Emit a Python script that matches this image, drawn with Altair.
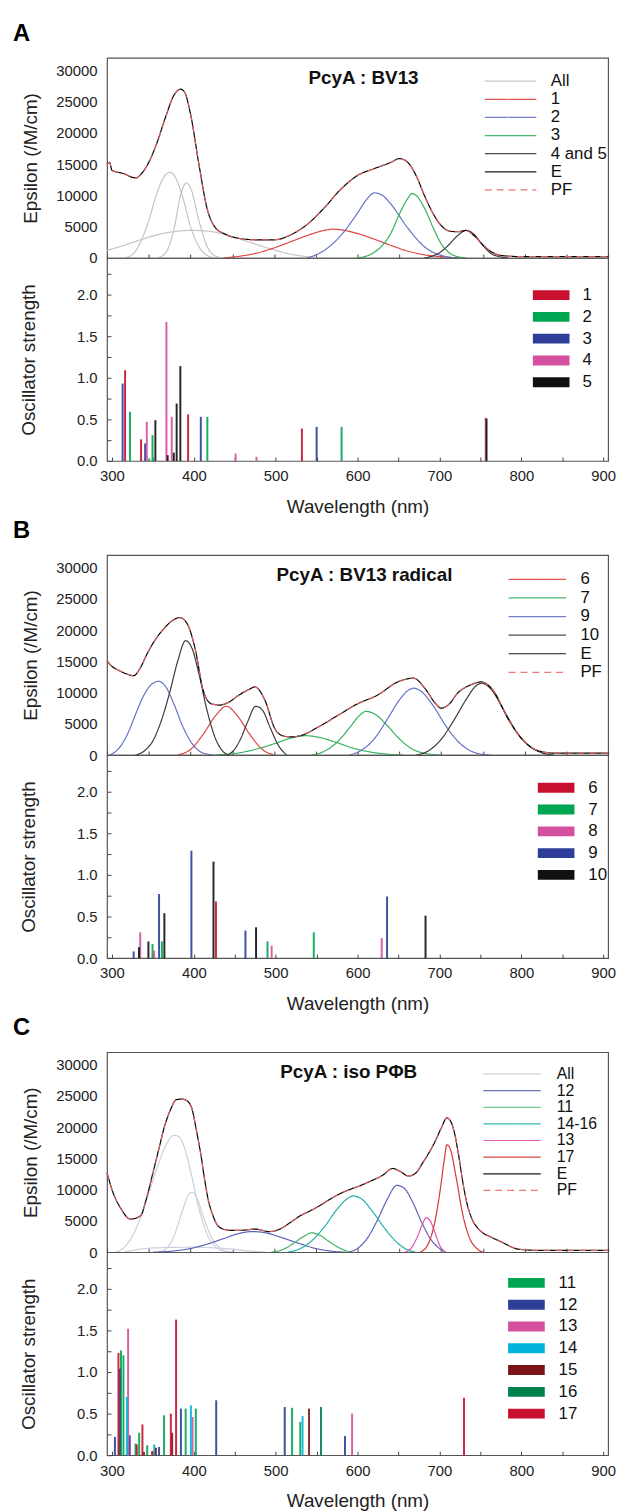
import altair as alt
import pandas as pd

FONT = "Liberation Sans"
X_DOMAIN = [300, 900]
X_TICKS = list(range(300, 901, 50))
EPS_TICKS = [0, 5000, 10000, 15000, 20000, 25000, 30000]
F_TICKS = [0, 0.25, 0.5, 0.75, 1.0, 1.25, 1.5, 1.75, 2.0, 2.25]

# ---------------- Panel A : PcyA : BV13 ----------------
A_TITLE = "PcyA : BV13"
A_E = [(300, 15000), (303, 15300), (306, 14000), (310, 13800), (320, 13500), (330, 12900), (335, 12800),
       (340, 13300), (350, 15300), (360, 18500), (370, 22500), (380, 26000), (388, 27000), (393, 26500),
       (400, 23000), (410, 15000), (420, 7800), (430, 4800), (440, 3900), (460, 3100), (480, 2900),
       (500, 2900), (520, 3700), (540, 5400), (560, 8000), (580, 11000), (600, 13200), (620, 14300),
       (640, 15300), (650, 15900), (660, 15300), (670, 13200), (680, 10000), (690, 7200), (700, 5200),
       (710, 4300), (720, 4200), (730, 4400), (740, 3500), (750, 2100), (760, 1000), (770, 450),
       (780, 300), (800, 200), (850, 200), (900, 200)]
A_ALL_1 = [(320, 0), (330, 500), (340, 2500), (350, 6000), (360, 10500), (370, 13300), (375, 13700),
           (380, 13300), (390, 10000), (400, 5000), (410, 1800), (420, 400), (430, 0)]
A_ALL_2 = [(360, 0), (370, 800), (380, 4500), (388, 10000), (395, 12000), (400, 11200), (410, 6000),
           (420, 1800), (430, 300), (440, 0)]
A_ALL_3 = [(300, 1200), (320, 2000), (340, 2900), (360, 3700), (380, 4200), (400, 4400), (420, 4300),
           (440, 3800), (460, 3000), (480, 2100), (500, 1300), (520, 600), (540, 200), (560, 0)]
A_C1 = [(440, 0), (460, 300), (480, 800), (500, 1600), (520, 2600), (540, 3600), (560, 4400), (570, 4600),
        (580, 4500), (600, 3900), (620, 3000), (640, 2000), (660, 1100), (680, 500), (700, 200), (720, 0)]
A_C2 = [(540, 0), (560, 1200), (580, 3600), (600, 7200), (610, 9200), (620, 10400), (630, 10000),
        (640, 8600), (660, 4800), (680, 1800), (700, 400), (720, 0)]
A_C3 = [(600, 0), (620, 900), (640, 4000), (650, 7000), (660, 9500), (665, 10300), (670, 10000),
        (680, 8000), (690, 5000), (700, 2300), (710, 800), (720, 200), (730, 0)]
A_C45 = [(680, 0), (700, 1000), (710, 2200), (720, 3600), (730, 4400), (740, 3700), (750, 2000),
         (760, 700), (770, 200), (780, 0)]
A_LINE_NAMES = ["All", "1", "2", "3", "4 and 5", "E", "PF"]
A_LINE_COLORS = ["#c4c4c4", "#e04444", "#6372c4", "#33b35a", "#3a3a3a", "#000000", "#f06a6a"]
A_LINE_WIDTHS = [1.2, 1.2, 1.2, 1.2, 1.1, 2.6, 1.3]
A_BAR_NAMES = ["1", "2", "3", "4", "5"]
A_BAR_COLORS = ["#c8102e", "#00a651", "#2e3d98", "#d4509f", "#111111"]
A_BARS = {
    "1": [(316, 1.09), (335.5, 0.26), (393, 0.56), (532, 0.39)],
    "2": [(322, 0.59), (345.5, 0.03), (349.5, 0.31), (416.5, 0.53), (580.5, 0.41)],
    "3": [(313, 0.93), (340.5, 0.21), (408.5, 0.53), (550, 0.41)],
    "4": [(342.5, 0.47), (366.5, 1.67), (373, 0.53), (451, 0.09), (476.5, 0.05), (756.5, 0.52)],
    "5": [(353, 0.49), (368, 0.07), (375.5, 0.10), (379, 0.69), (383.5, 1.14), (757.5, 0.51)],
}

# ---------------- Panel B : PcyA : BV13 radical ----------------
B_TITLE = "PcyA : BV13 radical"
B_E = [(300, 15100), (305, 14300), (315, 13500), (325, 12900), (332, 12700), (340, 14000), (348, 16200),
       (358, 18500), (368, 20200), (378, 21500), (387, 22000), (396, 21000), (406, 16700), (415, 10400),
       (425, 8200), (435, 8000), (445, 8400), (458, 9600), (470, 10500), (477, 10900), (489, 8800),
       (501, 4200), (510, 3100), (520, 2900), (534, 3200), (553, 4500), (577, 6400), (600, 8200),
       (624, 9600), (648, 11700), (667, 12300), (681, 10600), (693, 8300), (700, 7500), (710, 8200),
       (719, 9800), (735, 11200), (748, 11700), (762, 10400), (781, 5600), (800, 2100), (819, 600),
       (838, 300), (900, 300)]
B_C6 = [(384, 0), (400, 900), (415, 3300), (430, 6300), (443, 7800), (456, 6300), (471, 3300),
        (486, 900), (501, 0)]
B_C7_1 = [(430, 0), (460, 400), (480, 1000), (500, 1800), (520, 2700), (538, 3100), (555, 2800),
          (575, 2000), (595, 1100), (615, 500), (635, 150), (655, 0)]
B_C7_2 = [(545, 0), (560, 600), (575, 2000), (590, 4300), (602, 6300), (610, 7000), (620, 6600),
          (635, 4800), (650, 2600), (665, 1000), (680, 300), (700, 0)]
B_C9_1 = [(303, 0), (315, 1200), (325, 3500), (335, 6800), (345, 9800), (355, 11500), (362, 11800),
          (370, 11000), (380, 8200), (390, 4800), (400, 2200), (410, 700), (420, 150), (428, 0)]
B_C9_2 = [(590, 0), (605, 800), (620, 2600), (635, 5600), (650, 8800), (660, 10300), (667, 10700),
          (675, 10300), (690, 8000), (705, 4800), (720, 2200), (735, 700), (750, 100), (760, 0)]
B_C10_1 = [(334, 0), (345, 700), (355, 2300), (365, 5500), (375, 10000), (385, 15200), (394, 18300),
           (402, 17000), (410, 13000), (420, 7000), (430, 2600), (438, 700), (445, 0)]
B_C10_2 = [(444, 0), (452, 800), (460, 2600), (468, 5200), (478, 7800), (486, 7200), (495, 4500),
           (505, 1600), (515, 0)]
B_C10_3 = [(670, 0), (685, 700), (700, 2500), (715, 5500), (730, 8900), (742, 11100), (749, 11500),
           (760, 10500), (775, 7200), (790, 3800), (805, 1500), (820, 400), (835, 0)]
B_LINE_NAMES = ["6", "7", "9", "10", "E", "PF"]
B_LINE_COLORS = ["#e04444", "#33b35a", "#6372c4", "#3a3a3a", "#000000", "#f06a6a"]
B_LINE_WIDTHS = [1.2, 1.2, 1.2, 1.1, 2.6, 1.3]
B_BAR_NAMES = ["6", "7", "8", "9", "10"]
B_BAR_COLORS = ["#c8102e", "#00a651", "#d4509f", "#2e3d98", "#111111"]
B_BARS = {
    "6": [(427, 0.68)],
    "7": [(349.5, 0.17), (361, 0.20), (490, 0.20), (546.5, 0.31)],
    "8": [(334.5, 0.31), (351.5, 0.09), (495, 0.15), (629.5, 0.24)],
    "9": [(326.5, 0.08), (357.5, 0.77), (397, 1.29), (463, 0.33), (636, 0.74)],
    "10": [(333, 0.13), (344.5, 0.20), (364, 0.54), (424, 1.16), (476, 0.37), (683, 0.51)],
}

# ---------------- Panel C : PcyA : iso PΦB ----------------
C_TITLE = "PcyA : iso PΦB"
C_E = [(300, 12700), (307, 9600), (317, 6900), (328, 5300), (340, 5800), (347, 8500), (355, 12700),
       (362, 16500), (369, 20200), (376, 22800), (383, 24400), (390, 24500), (396, 24200), (402, 22800),
       (407, 19500), (412, 15900), (417, 11500), (421, 8500), (427, 5800), (433, 4200), (442, 3600),
       (450, 3500), (460, 3500), (469, 3600), (478, 3700), (486, 3500), (493, 3300), (500, 3400),
       (507, 3700), (520, 4800), (531, 5800), (543, 6600), (554, 7400), (566, 8400), (578, 9300),
       (592, 10100), (604, 10700), (616, 11400), (630, 12300), (642, 13400), (650, 13000), (661, 12200),
       (670, 12700), (678, 14300), (685, 15800), (692, 17500), (700, 19800), (707, 21500), (712, 20800),
       (716, 19100), (721, 15500), (726, 11200), (731, 7800), (737, 5300), (743, 4000), (749, 3200),
       (760, 2400), (773, 1600), (785, 800), (792, 500), (816, 300), (900, 300)]
C_ALL_1 = [(310, 0), (320, 700), (330, 2500), (340, 5500), (350, 9500), (360, 13500), (370, 17000),
           (380, 18700), (386, 18500), (392, 17000), (400, 13000), (410, 7000), (420, 2800), (430, 800),
           (440, 150), (450, 0)]
C_ALL_2 = [(360, 0), (370, 500), (380, 2500), (390, 6500), (398, 9300), (402, 9600), (408, 8600),
           (415, 5800), (425, 2400), (435, 700), (445, 100), (450, 0)]
C_ALL_3 = [(320, 0), (340, 500), (360, 700), (400, 800), (440, 600), (470, 200), (490, 0)]
C_C12_1 = [(355, 0), (380, 200), (400, 600), (420, 1300), (440, 2200), (458, 3000), (474, 3300),
           (490, 3100), (510, 2300), (530, 1400), (550, 600), (570, 150), (586, 0)]
C_C12_2 = [(588, 0), (600, 600), (612, 2300), (624, 5200), (636, 8600), (647, 10700), (656, 10200),
           (666, 8000), (676, 5000), (688, 2000), (698, 600), (706, 0)]
C_C11 = [(497, 0), (510, 400), (522, 1300), (534, 2400), (545, 3100), (555, 2700), (566, 1700),
         (578, 700), (592, 0)]
C_C1416 = [(516, 0), (530, 500), (545, 1800), (560, 4000), (575, 6800), (587, 8500), (595, 9000),
           (605, 8500), (618, 6500), (632, 3900), (646, 1700), (658, 500), (670, 0)]
C_C13 = [(657, 0), (665, 800), (672, 2600), (678, 4600), (682, 5500), (687, 5000), (693, 3000),
         (698, 1200), (705, 0)]
C_C17 = [(675, 0), (684, 1200), (692, 4500), (699, 10000), (704, 15000), (707, 17200), (711, 16500),
         (718, 12000), (726, 6000), (734, 2300), (742, 700), (750, 0)]
C_LINE_NAMES = ["All", "12", "11", "14-16", "13", "17", "E", "PF"]
C_LINE_COLORS = ["#c9d1dc", "#5a64b8", "#3fb160", "#1fb0a6", "#e04fb0", "#d83434", "#000000", "#f06a6a"]
C_LINE_WIDTHS = [1.2, 1.2, 1.2, 1.2, 1.2, 1.2, 2.6, 1.3]
C_BAR_NAMES = ["11", "12", "13", "14", "15", "16", "17"]
C_BAR_COLORS = ["#00a651", "#2e3d98", "#d4509f", "#00b4dc", "#7a1418", "#00804a", "#c8102e"]
C_BARS = {
    "11": [(311, 1.26), (314, 1.20), (328.8, 0.14), (333.2, 0.27), (343, 0.12), (363.6, 0.48),
           (390, 0.56), (402.4, 0.56), (520, 0.57), (530, 0.40)],
    "12": [(303.6, 0.22), (309.5, 1.04), (321.7, 0.24), (357.5, 0.10), (384.2, 0.56), (427.3, 0.66),
           (511, 0.58), (584.6, 0.23)],
    "13": [(319.7, 1.52), (398.4, 0.46), (593.3, 0.50)],
    "14": [(318.2, 0.70), (351.6, 0.13), (396.4, 0.60), (532.8, 0.47)],
    "15": [(339, 0.04), (353.6, 0.09), (373.5, 0.27), (540.7, 0.56)],
    "16": [(309, 0.17), (555.3, 0.58)],
    "17": [(307.9, 1.23), (330.3, 0.13), (337.2, 0.37), (349, 0.05), (371.9, 0.50), (378.3, 1.63),
           (730, 0.69)],
}


def comp_frame(components):
    rows = []
    for name, pieces in components:
        for i, pts in enumerate(pieces):
            for wl, v in pts:
                rows.append({"series": name, "part": f"{name}#{i}", "wl": wl, "eps": v})
    return pd.DataFrame(rows)


def env_frame(name, pts):
    return pd.DataFrame([{"series": name, "wl": wl, "eps": v} for wl, v in pts])


def bar_frame(bars):
    rows = []
    for name, pts in bars.items():
        for wl, f in pts:
            rows.append({"state": name, "wl": wl, "f": f})
    return pd.DataFrame(rows)


def line_legend(lx, ly, half, label_offset, font_size, row_pad):
    return alt.Legend(title=None, orient="none", legendX=lx, legendY=ly,
                      symbolType=f"M-{half},0H{half}", symbolSize=100,
                      symbolStrokeWidth=alt.ExprRef("datum.value === 'E' ? 2.8 : 1.5"),
                      labelFont=FONT, labelFontSize=font_size, labelOffset=label_offset,
                      rowPadding=row_pad, padding=0, labelColor="#111111")


def bar_legend(lx, ly, label_offset):
    return alt.Legend(title=None, orient="none", legendX=lx, legendY=ly,
                      symbolType="M-3.7,-1H3.7V1H-3.7Z", symbolSize=100, symbolStrokeWidth=0,
                      labelFont=FONT, labelFontSize=17, labelOffset=label_offset,
                      rowPadding=4, padding=0, labelColor="#111111", symbolOpacity=1)


def top_chart(letter, title_text, title_x, comps, env, names, colors, widths, leg):
    dashes = [[1, 0]] * (len(names) - 1) + [[7, 5]]
    x = alt.X("wl:Q", scale=alt.Scale(domain=X_DOMAIN, nice=False, zero=False),
              axis=alt.Axis(values=X_TICKS, labels=False, ticks=True, tickSize=4, offset=-4,
                            domain=False, grid=False, title=None, tickColor="#444444"))
    y = alt.Y("eps:Q", scale=alt.Scale(domain=[0, 32000], nice=False),
              axis=alt.Axis(values=EPS_TICKS, format="d", title="Epsilon (/M/cm)", ticks=False,
                            domain=False, grid=False, labelPadding=10, titlePadding=15,
                            labelOverlap=False))
    color = alt.Color("series:N", scale=alt.Scale(domain=names, range=colors), legend=leg)
    dash = alt.StrokeDash("series:N", scale=alt.Scale(domain=names, range=dashes), legend=leg)
    sw = alt.StrokeWidth("series:O", scale=alt.Scale(domain=names, range=widths), legend=None)
    comp = alt.Chart(comp_frame(comps)).mark_line(interpolate="monotone").encode(
        x=x, y=y, color=color, strokeDash=dash, strokeWidth=sw, detail="part:N")
    e = alt.Chart(env_frame("E", env)).mark_line(interpolate="monotone").encode(
        x=x, y=y, color=color, strokeDash=dash, strokeWidth=sw)
    pf = alt.Chart(env_frame("PF", env)).mark_line(interpolate="monotone", opacity=0.9).encode(
        x=x, y=y, color=color, strokeDash=dash, strokeWidth=sw)
    txt = alt.Chart(pd.DataFrame({"t": [title_text]})).mark_text(
        font=FONT, fontSize=19, fontWeight="bold", align="center", baseline="middle", color="#111111"
    ).encode(text="t:N", x=alt.value(title_x), y=alt.value(20))
    return alt.layer(comp, e, pf, txt).properties(
        width=506, height=202,
        title=alt.TitleParams(text=letter, anchor="start", frame="group", dx=-95, fontSize=24,
                              fontWeight="bold", font=FONT, offset=12, color="#000000"))


def bottom_chart(bars, names, colors, leg):
    x = alt.X("wl:Q", scale=alt.Scale(domain=X_DOMAIN, nice=False, zero=False),
              axis=alt.Axis(values=X_TICKS,
                            labelExpr="datum.value % 100 === 0 ? format(datum.value, 'd') : ''",
                            ticks=True, tickSize=4, offset=-4, domain=False, grid=False,
                            title="Wavelength (nm)", labelPadding=8, titlePadding=14,
                            labelOverlap=False, labelFlush=False, tickColor="#444444"))
    y = alt.Y("f:Q", scale=alt.Scale(domain=[0, 2.44], nice=False),
              axis=alt.Axis(values=F_TICKS,
                            labelExpr="datum.value % 0.5 === 0 ? format(datum.value, '.1f') : ''",
                            ticks=True, tickSize=4, offset=-4, domain=False, grid=False,
                            title="Oscillator strength", labelPadding=10, titlePadding=38,
                            labelOverlap=False, tickColor="#444444"))
    color = alt.Color("state:N", scale=alt.Scale(domain=names, range=colors), legend=leg)
    return alt.Chart(bar_frame(bars)).mark_bar(orient="vertical", size=2, opacity=0.9).encode(
        x=x, y=y, color=color).properties(width=506, height=205)


IND = dict(color="independent", strokeDash="independent", strokeWidth="independent",
           x="independent", y="independent")

A = alt.vconcat(
    top_chart("A", A_TITLE, 259,
              [("All", [A_ALL_1, A_ALL_2, A_ALL_3]), ("1", [A_C1]), ("2", [A_C2]), ("3", [A_C3]),
               ("4 and 5", [A_C45])],
              A_E, A_LINE_NAMES, A_LINE_COLORS, A_LINE_WIDTHS,
              line_legend(399, 15, 5.2, 32, 17, 0.3)),
    bottom_chart(A_BARS, A_BAR_NAMES, A_BAR_COLORS, bar_legend(440, 29, 23)),
    spacing=0, bounds="flush").resolve_scale(**IND)

B = alt.vconcat(
    top_chart("B", B_TITLE, 260,
              [("6", [B_C6]), ("7", [B_C7_1, B_C7_2]), ("9", [B_C9_1, B_C9_2]),
               ("10", [B_C10_1, B_C10_2, B_C10_3])],
              B_E, B_LINE_NAMES, B_LINE_COLORS, B_LINE_WIDTHS,
              line_legend(426, 16, 5.8, 35, 17, 0.8)),
    bottom_chart(B_BARS, B_BAR_NAMES, B_BAR_COLORS, bar_legend(445, 24.5, 24)),
    spacing=0, bounds="flush").resolve_scale(**IND)

C = alt.vconcat(
    top_chart("C", C_TITLE, 244,
              [("All", [C_ALL_1, C_ALL_2, C_ALL_3]), ("12", [C_C12_1, C_C12_2]), ("11", [C_C11]),
               ("14-16", [C_C1416]), ("13", [C_C13]), ("17", [C_C17])],
              C_E, C_LINE_NAMES, C_LINE_COLORS, C_LINE_WIDTHS,
              line_legend(401, 14, 5.8, 37, 16, 0.8)),
    bottom_chart(C_BARS, C_BAR_NAMES, C_BAR_COLORS, bar_legend(415, 22.5, 24)),
    spacing=0, bounds="flush").resolve_scale(**IND)

chart = alt.vconcat(A, B, C, spacing=1).resolve_scale(**IND).properties(
    padding={"left": 4, "top": 6, "right": 4, "bottom": 0}
).configure_axis(
    labelFont=FONT, titleFont=FONT, labelFontSize=15, titleFontSize=19, titleFontWeight="normal",
    labelColor="#222222", titleColor="#222222"
).configure_view(stroke="#555555", strokeWidth=1.2).configure_title(font=FONT)

chart.save("out.html", embed_options={"renderer": "svg", "actions": False})
